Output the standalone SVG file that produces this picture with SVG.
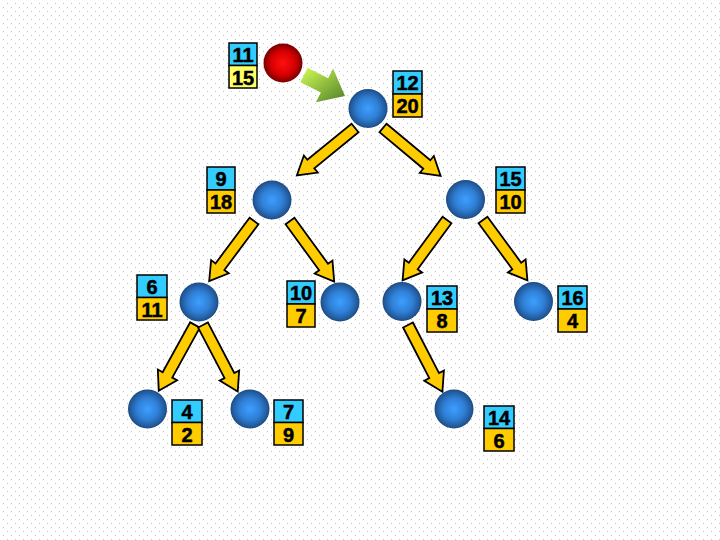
<svg xmlns="http://www.w3.org/2000/svg" xmlns:xlink="http://www.w3.org/1999/xlink" width="720" height="540" viewBox="0 0 720 540">
<defs>
<pattern id="dots" x="0" y="0" width="8" height="8" patternUnits="userSpaceOnUse">
<rect x="7" y="3" width="1" height="1" fill="#c4c4c4"/>
<rect x="3" y="7" width="1" height="1" fill="#c4c4c4"/>
</pattern>
<radialGradient id="blueBall" cx="0.5" cy="0.5" r="0.5">
<stop offset="0" stop-color="#3d9fff"/>
<stop offset="0.55" stop-color="#2f7fd6"/>
<stop offset="0.9" stop-color="#22599a"/>
<stop offset="1" stop-color="#1a4a80"/>
</radialGradient>
<radialGradient id="redBall" cx="0.5" cy="0.5" r="0.5">
<stop offset="0" stop-color="#ff1010"/>
<stop offset="0.6" stop-color="#d80000"/>
<stop offset="1" stop-color="#7a0000"/>
</radialGradient>
<linearGradient id="greenGrad" x1="0" y1="0" x2="1" y2="0.4">
<stop offset="0" stop-color="#d4ff55"/>
<stop offset="1" stop-color="#5f8f2f"/>
</linearGradient>
<polygon id="arrow" points="0,-5.5 57,-5.5 57,-11 75,0 57,11 57,5.5 0,5.5" fill="#ffcc00" stroke="#000" stroke-width="1.8" stroke-linejoin="miter"/>
</defs>
<style>
.cyan{fill:#33ccff;stroke:#000;stroke-width:1.5}
.gold{fill:#ffcc00;stroke:#000;stroke-width:1.5}
.lyel{fill:#ffff66;stroke:#000;stroke-width:1.5}
.num{font-family:"Liberation Sans",Arial,sans-serif;font-weight:bold;font-size:20px;fill:#000;text-anchor:middle;stroke:#000;stroke-width:0.5}
.ball{fill:url(#blueBall)}
</style>
<rect width="720" height="540" fill="#ffffff"/>
<rect width="720" height="540" fill="url(#dots)"/>

<g id="connectors">
<polygon points="0,-8 23,-8 23,-19 46,0 23,19 23,8 0,8" fill="url(#greenGrad)" transform="translate(304,75) rotate(27)"/>
<use xlink:href="#arrow" transform="translate(355,128) rotate(140.8)"/>
<use xlink:href="#arrow" transform="translate(383,128) rotate(39.8)"/>
<use xlink:href="#arrow" transform="translate(254,221) rotate(126.7)"/>
<use xlink:href="#arrow" transform="translate(290,221) rotate(53.9)"/>
<use xlink:href="#arrow" transform="translate(447,220) rotate(126.3)"/>
<use xlink:href="#arrow" transform="translate(483,220) rotate(53.7)"/>
<use xlink:href="#arrow" transform="translate(195,325) rotate(118.9)"/>
<use xlink:href="#arrow" transform="translate(203,325) rotate(62.4)"/>
<use xlink:href="#arrow" transform="translate(408,325) rotate(62.7)"/>
</g>

<g id="node-new">
<circle cx="283" cy="63" r="19.5" fill="url(#redBall)"/>
<rect class="cyan" x="229" y="43" width="28" height="22.5"/>
<rect class="lyel" x="229" y="65.5" width="28" height="22.5"/>
<text class="num" x="243" y="62">11</text>
<text class="num" x="243" y="84.5">15</text>
</g>

<g id="node-12">
<circle class="ball" cx="368" cy="108.5" r="19.5"/>
<rect class="cyan" x="393" y="71" width="29" height="23"/>
<rect class="gold" x="393" y="94" width="29" height="23"/>
<text class="num" x="407.5" y="90">12</text>
<text class="num" x="407.5" y="113">20</text>
</g>

<g id="node-9">
<circle class="ball" cx="272" cy="200" r="19.5"/>
<rect class="cyan" x="207" y="167" width="28" height="23"/>
<rect class="gold" x="207" y="190" width="28" height="23"/>
<text class="num" x="221" y="186">9</text>
<text class="num" x="221" y="209">18</text>
</g>

<g id="node-15">
<circle class="ball" cx="465.5" cy="199.5" r="19.5"/>
<rect class="cyan" x="496" y="167" width="29" height="23"/>
<rect class="gold" x="496" y="190" width="29" height="23"/>
<text class="num" x="510.5" y="186">15</text>
<text class="num" x="510.5" y="209">10</text>
</g>

<g id="node-6">
<circle class="ball" cx="199" cy="302" r="19.5"/>
<rect class="cyan" x="137" y="275" width="30" height="22.5"/>
<rect class="gold" x="137" y="297.5" width="30" height="22.5"/>
<text class="num" x="152" y="294">6</text>
<text class="num" x="152" y="316.5">11</text>
</g>

<g id="node-10">
<circle class="ball" cx="340" cy="302" r="19.5"/>
<rect class="cyan" x="287" y="281" width="28" height="23"/>
<rect class="gold" x="287" y="304" width="28" height="23"/>
<text class="num" x="301" y="300">10</text>
<text class="num" x="301" y="323">7</text>
</g>

<g id="node-13">
<circle class="ball" cx="402" cy="301.5" r="19.5"/>
<rect class="cyan" x="427" y="286" width="30" height="23"/>
<rect class="gold" x="427" y="309" width="30" height="23"/>
<text class="num" x="442" y="305">13</text>
<text class="num" x="442" y="328">8</text>
</g>

<g id="node-16">
<circle class="ball" cx="533.5" cy="301.5" r="19.5"/>
<rect class="cyan" x="558" y="286" width="29" height="23"/>
<rect class="gold" x="558" y="309" width="29" height="23"/>
<text class="num" x="572.5" y="305">16</text>
<text class="num" x="572.5" y="328">4</text>
</g>

<g id="node-4">
<circle class="ball" cx="147.5" cy="409" r="19.5"/>
<rect class="cyan" x="172" y="400" width="30" height="22.5"/>
<rect class="gold" x="172" y="422.5" width="30" height="22.5"/>
<text class="num" x="187" y="419">4</text>
<text class="num" x="187" y="441.5">2</text>
</g>

<g id="node-7">
<circle class="ball" cx="250" cy="409" r="19.5"/>
<rect class="cyan" x="274" y="400" width="29" height="22.5"/>
<rect class="gold" x="274" y="422.5" width="29" height="22.5"/>
<text class="num" x="288.5" y="419">7</text>
<text class="num" x="288.5" y="441.5">9</text>
</g>

<g id="node-14">
<circle class="ball" cx="454" cy="409" r="19.5"/>
<rect class="cyan" x="484" y="406" width="30" height="22.5"/>
<rect class="gold" x="484" y="428.5" width="30" height="22.5"/>
<text class="num" x="499" y="425">14</text>
<text class="num" x="499" y="447.5">6</text>
</g>
</svg>
